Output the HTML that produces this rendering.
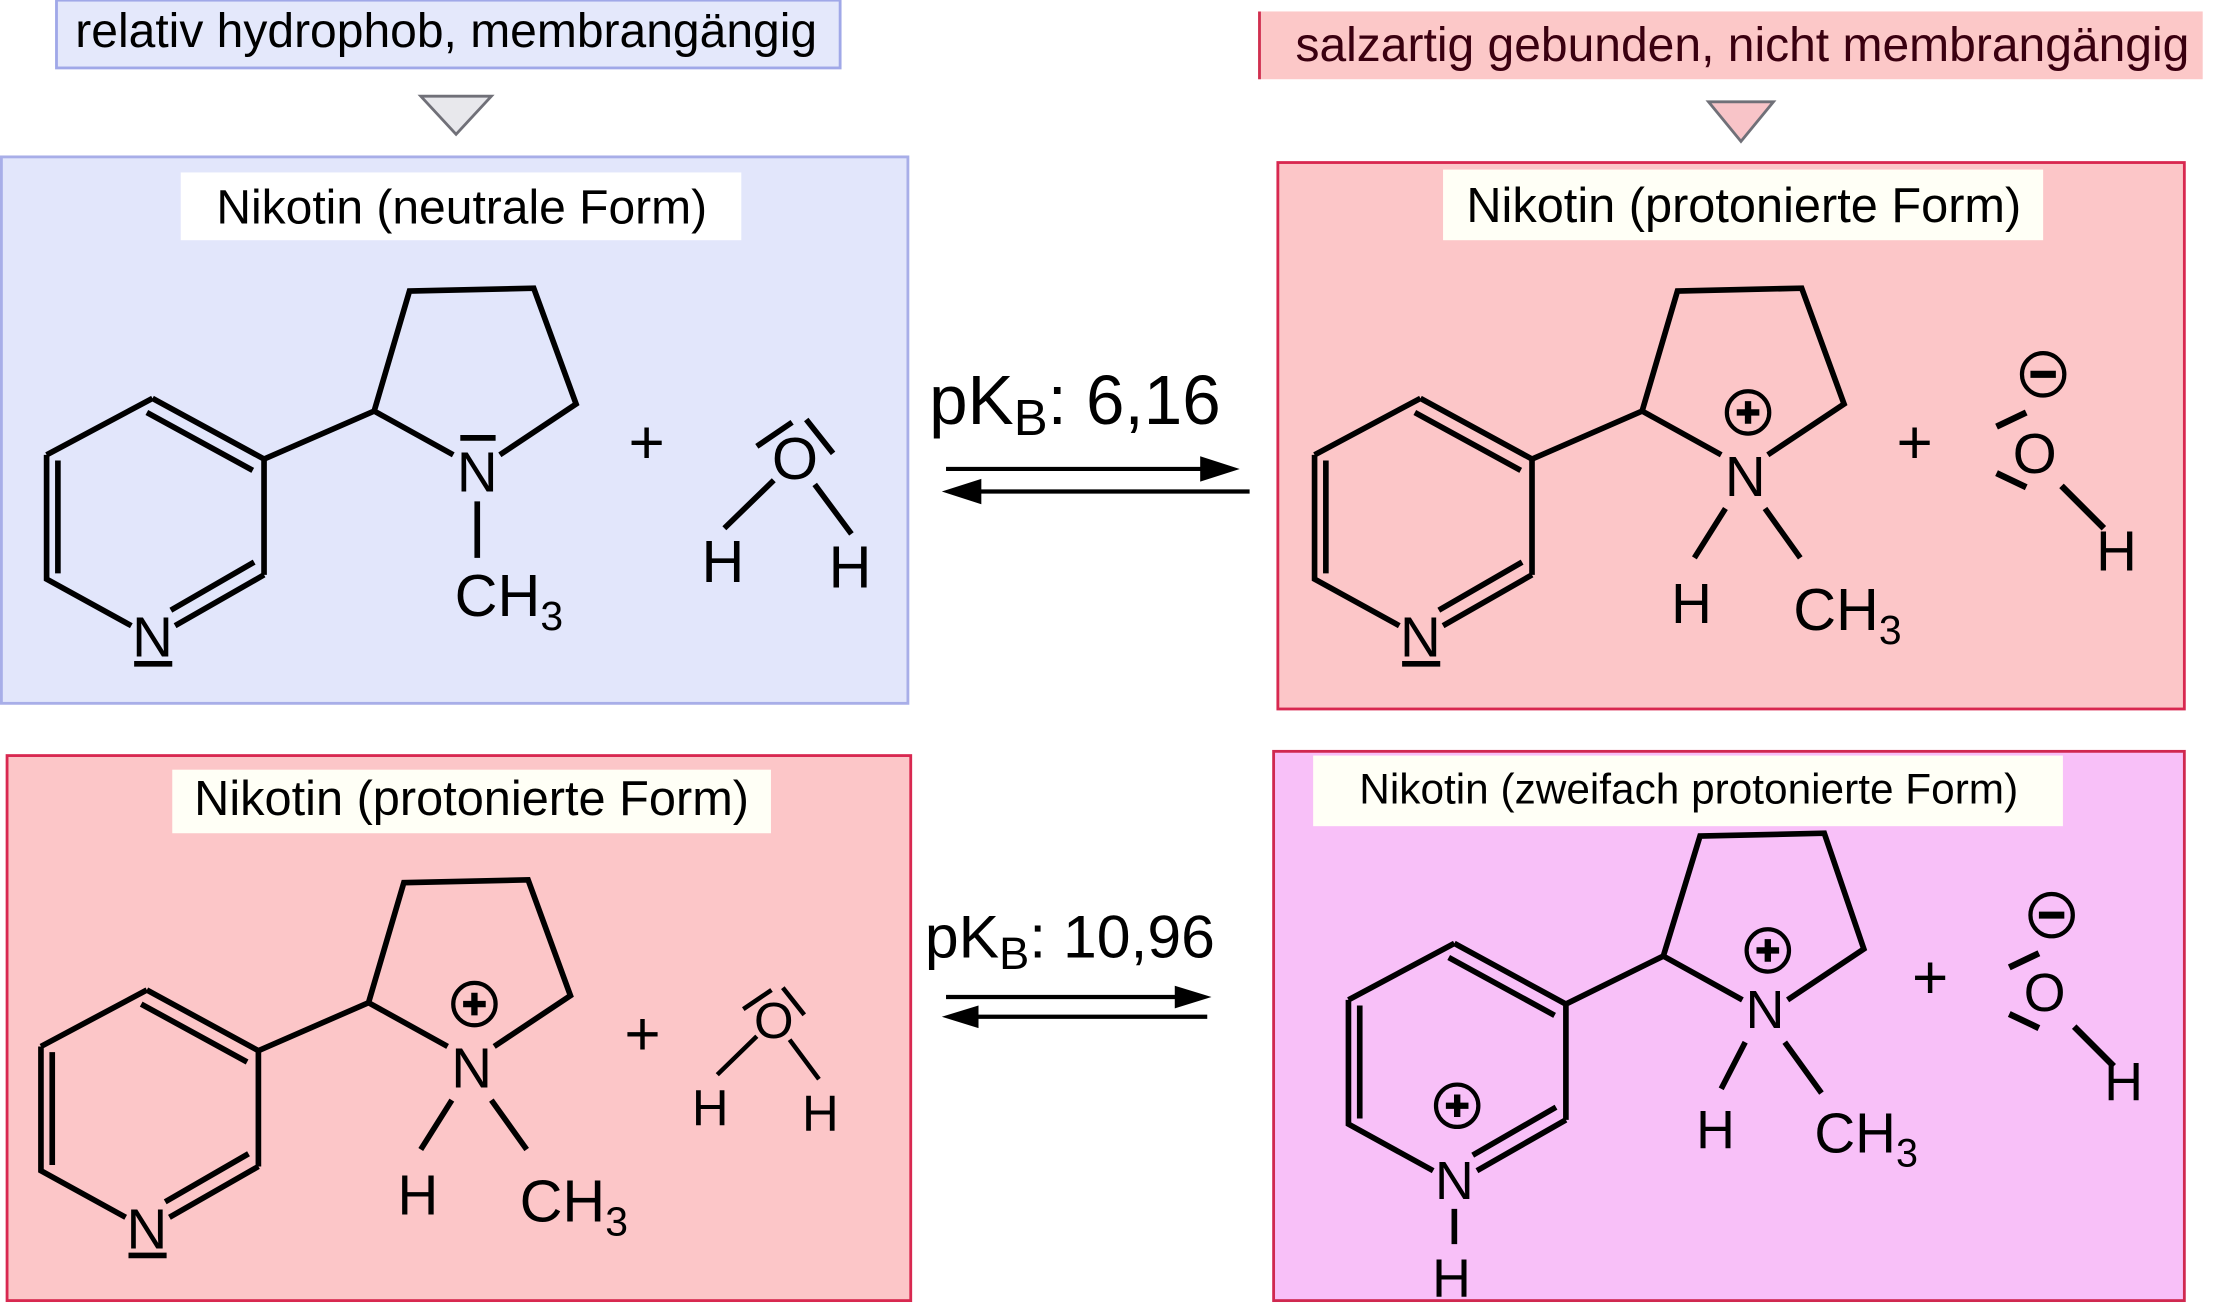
<!DOCTYPE html>
<html><head><meta charset="utf-8"><style>
html,body{margin:0;padding:0;background:#fff;}
svg{display:block;}
text{font-family:"Liberation Sans",sans-serif;fill:#000;}
</style></head><body>
<svg width="2214" height="1305" viewBox="0 0 1568 924" xmlns="http://www.w3.org/2000/svg">
<defs>
<g id="skel" fill="none" stroke="#000" stroke-width="4" stroke-linecap="butt">
  <path d="M108,282 L187,325 L187,407 M33,322 L108,282 M33,322 L33,410 L93,443 M187,407 L124,443"/>
  <path d="M104,292 L179,333 M41,326 L41,406 M180,398 L121,432"/>
  <path d="M187,325 L265,291 L290,206 L378,204 L408,286 L354,322 M265,291 L321,322"/>
</g>
<g id="water" fill="none" stroke="#000" stroke-width="4">
  <path d="M536,316 L561,299 M571,297 L590,321 M548,340 L513,374 M577,343 L603,378"/>
</g>
<g id="plus"><circle cx="0" cy="0" r="15" fill="none" stroke="#000" stroke-width="3"/><path d="M-8,0 H8 M0,-8 V8" stroke="#000" stroke-width="4.5"/></g>
<g id="minus"><circle cx="0" cy="0" r="15" fill="none" stroke="#000" stroke-width="3"/><path d="M-9,0 H9" stroke="#000" stroke-width="5"/></g>
</defs>

<!-- top-left -->
<rect x="40" y="0" width="555" height="48" fill="#e4e8fb" stroke="#a0a8e8" stroke-width="2"/>
<text x="316" y="33" font-size="34" text-anchor="middle">relativ hydrophob, membrangängig</text>
<path d="M298,68 L348,68 L323,95 Z" fill="#e8e8ec" stroke="#707078" stroke-width="2"/>
<rect x="1" y="111" width="642" height="387" fill="#e2e6fb" stroke="#a8aee8" stroke-width="2"/>
<rect x="128" y="122" width="397" height="48" fill="#fff"/>
<text x="327" y="158" font-size="34" text-anchor="middle">Nikotin (neutrale Form)</text>
<use href="#skel"/>
<text x="338" y="348" font-size="40" text-anchor="middle">N</text>
<path d="M326,310 H351 M338,355 V395 M95,470 H122" stroke="#000" stroke-width="4"/>
<text x="108" y="465" font-size="40" text-anchor="middle">N</text>
<text x="322" y="436" font-size="42">CH<tspan font-size="29" dy="10">3</tspan></text>
<text x="458" y="328" font-size="44" text-anchor="middle">+</text>
<use href="#water"/>
<text x="563" y="339" font-size="42" text-anchor="middle">O</text>
<text x="512" y="412" font-size="42" text-anchor="middle">H</text>
<text x="602" y="416" font-size="42" text-anchor="middle">H</text>

<!-- arrows top -->
<text x="658" y="300" font-size="49">pK<tspan font-size="36" dy="8">B</tspan><tspan dy="-8">: 6,16</tspan></text>
<path d="M670,332 H860 M885,348 H685" stroke="#000" stroke-width="3"/>
<path d="M878,332 L850,323 L850,341 Z M667,348 L695,339 L695,357 Z" fill="#000"/>

<!-- top-right -->
<rect x="891" y="8" width="669" height="48" fill="#fcc8c8"/>
<line x1="892" y1="8" x2="892" y2="56" stroke="#d03050" stroke-width="2"/>
<text x="1234" y="43" font-size="34" text-anchor="middle" style="fill:#3a0010">salzartig gebunden, nicht membrangängig</text>
<path d="M1210,72 L1256,72 L1233,100 Z" fill="#f8c4c8" stroke="#707078" stroke-width="2"/>
<rect x="905" y="115" width="642" height="387" fill="#fcc6c8" stroke="#d82850" stroke-width="2"/>
<rect x="1022" y="120" width="425" height="50" fill="#fffff6"/>
<text x="1235" y="157" font-size="34.5" text-anchor="middle">Nikotin (protonierte Form)</text>
<g transform="translate(898,0)">
  <use href="#skel"/>
  <text x="338" y="351" font-size="40" text-anchor="middle">N</text>
  <use href="#plus" x="340" y="292"/>
  <path d="M95,470 H122 M324,360 L302,395 M352,360 L377,395" stroke="#000" stroke-width="4"/>
  <text x="108" y="465" font-size="40" text-anchor="middle">N</text>
  <text x="300" y="441" font-size="40" text-anchor="middle">H</text>
  <text x="372" y="446" font-size="42">CH<tspan font-size="29" dy="10">3</tspan></text>
  <text x="458" y="328" font-size="44" text-anchor="middle">+</text>
  <use href="#minus" x="549" y="265"/>
  <path d="M516,302 L537,292 M516,335 L537,345 M562,344 L592,374" stroke="#000" stroke-width="4.5" fill="none"/>
  <text x="543" y="335" font-size="40" text-anchor="middle">O</text>
  <text x="601" y="404" font-size="40" text-anchor="middle">H</text>
</g>

<!-- bottom-left -->
<rect x="5" y="535" width="640" height="386" fill="#fcc6c8" stroke="#d82850" stroke-width="2"/>
<rect x="122" y="545" width="424" height="45" fill="#fffff6"/>
<text x="334" y="577" font-size="34.5" text-anchor="middle">Nikotin (protonierte Form)</text>
<g transform="translate(-4,419)">
  <use href="#skel"/>
  <text x="338" y="351" font-size="40" text-anchor="middle">N</text>
  <use href="#plus" x="340" y="292"/>
  <path d="M95,470 H122 M324,360 L302,395 M352,360 L377,395" stroke="#000" stroke-width="4"/>
  <text x="108" y="465" font-size="40" text-anchor="middle">N</text>
  <text x="300" y="441" font-size="40" text-anchor="middle">H</text>
  <text x="372" y="446" font-size="42">CH<tspan font-size="29" dy="10">3</tspan></text>
</g>
<text x="455" y="747" font-size="44" text-anchor="middle">+</text>
<g transform="translate(-15,397) scale(1)">
  <use href="#water" transform="translate(563,324) scale(0.8) translate(-563,-324)"/>
  <text x="563" y="338" font-size="36" text-anchor="middle">O</text>
  <text x="518" y="400" font-size="36" text-anchor="middle">H</text>
  <text x="596" y="404" font-size="36" text-anchor="middle">H</text>
</g>

<!-- arrows bottom -->
<text x="655" y="678" font-size="43">pK<tspan font-size="32" dy="8">B</tspan><tspan dy="-8">: 10,96</tspan></text>
<path d="M670,706 H840 M855,720 H685" stroke="#000" stroke-width="3"/>
<path d="M858,706 L832,698 L832,714 Z M667,720 L693,712 L693,728 Z" fill="#000"/>

<!-- bottom-right -->
<rect x="902" y="532" width="645" height="389" fill="#f8c0f8" stroke="#d02850" stroke-width="2"/>
<rect x="930" y="535" width="531" height="50" fill="#fffff6"/>
<text x="1196" y="569" font-size="30" text-anchor="middle">Nikotin (zweifach protonierte Form)</text>
<g transform="translate(922,386)">
  <path d="M108,282 L187,325 L187,407 M33,322 L108,282 M33,322 L33,410 L93,443 M187,407 L124,443 M104,292 L179,333 M41,326 L41,406 M180,398 L121,432 M187,325 L256,291 L282,206 L370,204 L398,286 L344,322 M256,291 L312,322" fill="none" stroke="#000" stroke-width="4"/>
  <text x="328" y="342" font-size="38" text-anchor="middle">N</text>
  <use href="#plus" x="330" y="287"/>
  <path d="M314,352 L297,385 M342,352 L368,388 M108,470 V495" stroke="#000" stroke-width="4"/>
  <text x="108" y="463" font-size="38" text-anchor="middle">N</text>
  <use href="#plus" x="110" y="397"/>
  <text x="106" y="532" font-size="38" text-anchor="middle">H</text>
  <text x="293" y="427" font-size="38" text-anchor="middle">H</text>
  <text x="363" y="430" font-size="40">CH<tspan font-size="28" dy="10">3</tspan></text>
</g>
<text x="1367" y="707" font-size="44" text-anchor="middle">+</text>
<g transform="translate(907,383)">
  <use href="#minus" x="546" y="265"/>
  <path d="M516,302 L537,292 M516,335 L537,345 M562,344 L590,372" stroke="#000" stroke-width="4.5" fill="none"/>
  <text x="541" y="333" font-size="38" text-anchor="middle">O</text>
  <text x="597" y="396" font-size="38" text-anchor="middle">H</text>
</g>
</svg>
</body></html>
